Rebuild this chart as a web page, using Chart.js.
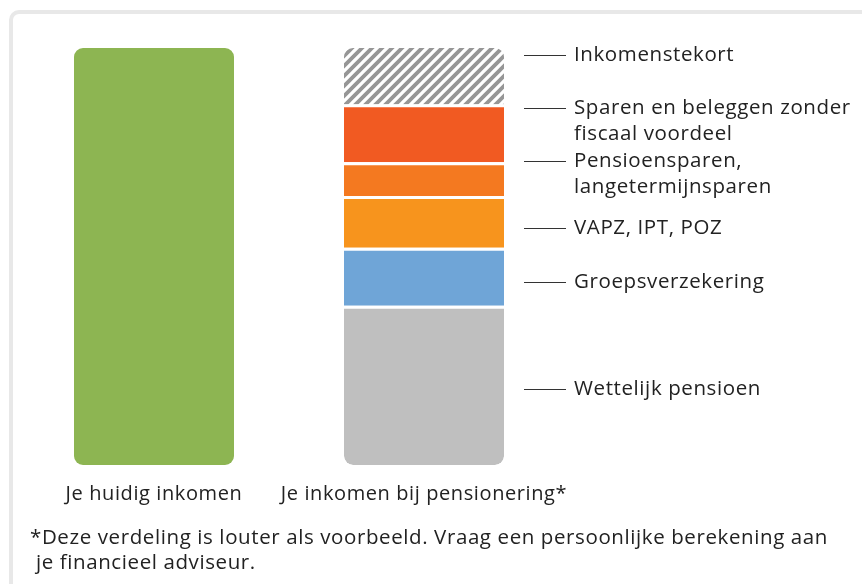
<!DOCTYPE html>
<html>
<head>
<meta charset="utf-8">
<script src="https://cdn.jsdelivr.net/npm/chart.js@4.4.1/dist/chart.umd.min.js"></script>
<style>
  html, body { margin: 0; padding: 0; background: #ffffff; overflow: hidden; }
  #wrap { position: relative; width: 862px; height: 584px; }
  #frame { position: absolute; left: 9px; top: 10px; width: 900px; height: 700px;
           border: 4px solid #e8e8e8; border-radius: 10px; box-sizing: border-box; }
  canvas { position: absolute; left: 0; top: 0; }
  #note { position: absolute; left: 30px; top: 524px; font-family: "Open Sans", sans-serif;
          font-size: 20.5px; letter-spacing: 0.6px; line-height: 25px; color: #222; white-space: pre; }
</style>
</head>
<body>
<div id="wrap">
  <div id="frame"></div>
  <canvas id="c" width="862" height="584"></canvas>
  <div id="note">*Deze verdeling is louter als voorbeeld. Vraag een persoonlijke berekening aan
 je financieel adviseur.</div>
</div>
<script>
// ---- data ----
const categories = ["Je huidig inkomen", "Je inkomen bij pensionering*"];
const currentIncome = 100;
// retirement income components, bottom to top
const componentNames = [
  "Wettelijk pensioen",
  "Groepsverzekering",
  "VAPZ, IPT, POZ",
  "Pensioensparen,\nlangetermijnsparen",
  "Sparen en beleggen zonder\nfiscaal voordeel",
  "Inkomenstekort"
];
const componentValues = [38.2, 13.9, 12.4, 8.1, 13.9, 13.5];
// y value (same units) where each label's leader line sits
const labelAnchors = [18.2, 43.8, 56.9, 73.0, 85.6, 98.3];

// ---- styles ----
const componentColors = ["#bfbfbf", "#6fa5d7", "#f7941d", "#f47920", "#f15a22", null];
const FONT = "Open Sans";
const SPACING = "0.6px";

function hatchPattern() {
  const p = document.createElement("canvas");
  p.width = 10; p.height = 10;
  const g = p.getContext("2d");
  g.fillStyle = "#ffffff"; g.fillRect(0, 0, 10, 10);
  g.strokeStyle = "#969696"; g.lineWidth = 3.8; g.lineCap = "square";
  g.beginPath();
  g.moveTo(0, 10); g.lineTo(10, 0);
  g.moveTo(-5, 5); g.lineTo(5, -5);
  g.moveTo(5, 15); g.lineTo(15, 5);
  g.stroke();
  return document.getElementById("c").getContext("2d").createPattern(p, "repeat");
}

const datasets = [{
  label: categories[0],
  data: [currentIncome, null],
  backgroundColor: "#8db552",
  borderWidth: 0,
  borderRadius: {topLeft: 9, topRight: 9, bottomLeft: 9, bottomRight: 9},
  borderSkipped: false
}];
componentValues.forEach((v, i) => {
  const last = i === componentValues.length - 1;
  datasets.push({
    label: componentNames[i],
    data: [null, v],
    backgroundColor: last ? hatchPattern() : componentColors[i],
    borderColor: "#ffffff",
    borderWidth: last ? 0 : {top: 3, left: 0, right: 0, bottom: 0},
    borderRadius: i === 0 ? {topLeft: 0, topRight: 0, bottomLeft: 9, bottomRight: 9}
                : last ? {topLeft: 9, topRight: 9, bottomLeft: 0, bottomRight: 0} : 0,
    borderSkipped: i === 0 ? false : "start"
  });
});

const spacingPlugin = {
  id: "spacing",
  beforeUpdate(chart) { chart.ctx.letterSpacing = SPACING; },
  beforeLayout(chart) { chart.ctx.letterSpacing = SPACING; },
  beforeDraw(chart) { chart.ctx.letterSpacing = SPACING; }
};

const labelPlugin = {
  id: "sideLabels",
  afterDatasetsDraw(chart) {
    const ctx = chart.ctx;
    const y = chart.scales.y;
    const bar = chart.getDatasetMeta(1).data[1];
    const right = bar.x + bar.width / 2;
    ctx.save();
    ctx.letterSpacing = SPACING;
    ctx.font = "20.5px '" + FONT + "'";
    ctx.fillStyle = "#222";
    ctx.strokeStyle = "#333";
    ctx.lineWidth = 1;
    ctx.textBaseline = "middle";
    componentNames.forEach((name, i) => {
      const py = Math.round(y.getPixelForValue(labelAnchors[i])) + 0.5;
      ctx.beginPath();
      ctx.moveTo(right + 20, py);
      ctx.lineTo(right + 62, py);
      ctx.stroke();
      name.split("\n").forEach((line, k) => {
        ctx.fillText(line, right + 70, py + k * 26);
      });
    });
    ctx.restore();
  }
};

new Chart(document.getElementById("c"), {
  type: "bar",
  data: { labels: categories, datasets },
  options: {
    responsive: false,
    animation: false,
    devicePixelRatio: 1,
    layout: { padding: { left: 19, right: 303, top: 48, bottom: 69 } },
    plugins: { legend: { display: false }, tooltip: { enabled: false } },
    datasets: { bar: { categoryPercentage: 1, barPercentage: 0.5926 } },
    scales: {
      x: {
        stacked: true,
        grid: { display: false },
        border: { display: false },
        ticks: { color: "#222", padding: 9, maxRotation: 0, autoSkip: false,
                 font: { family: FONT, size: 20 } }
      },
      y: { stacked: true, display: false, min: 0, max: 100 }
    }
  },
  plugins: [spacingPlugin, labelPlugin]
});
</script>
</body>
</html>
